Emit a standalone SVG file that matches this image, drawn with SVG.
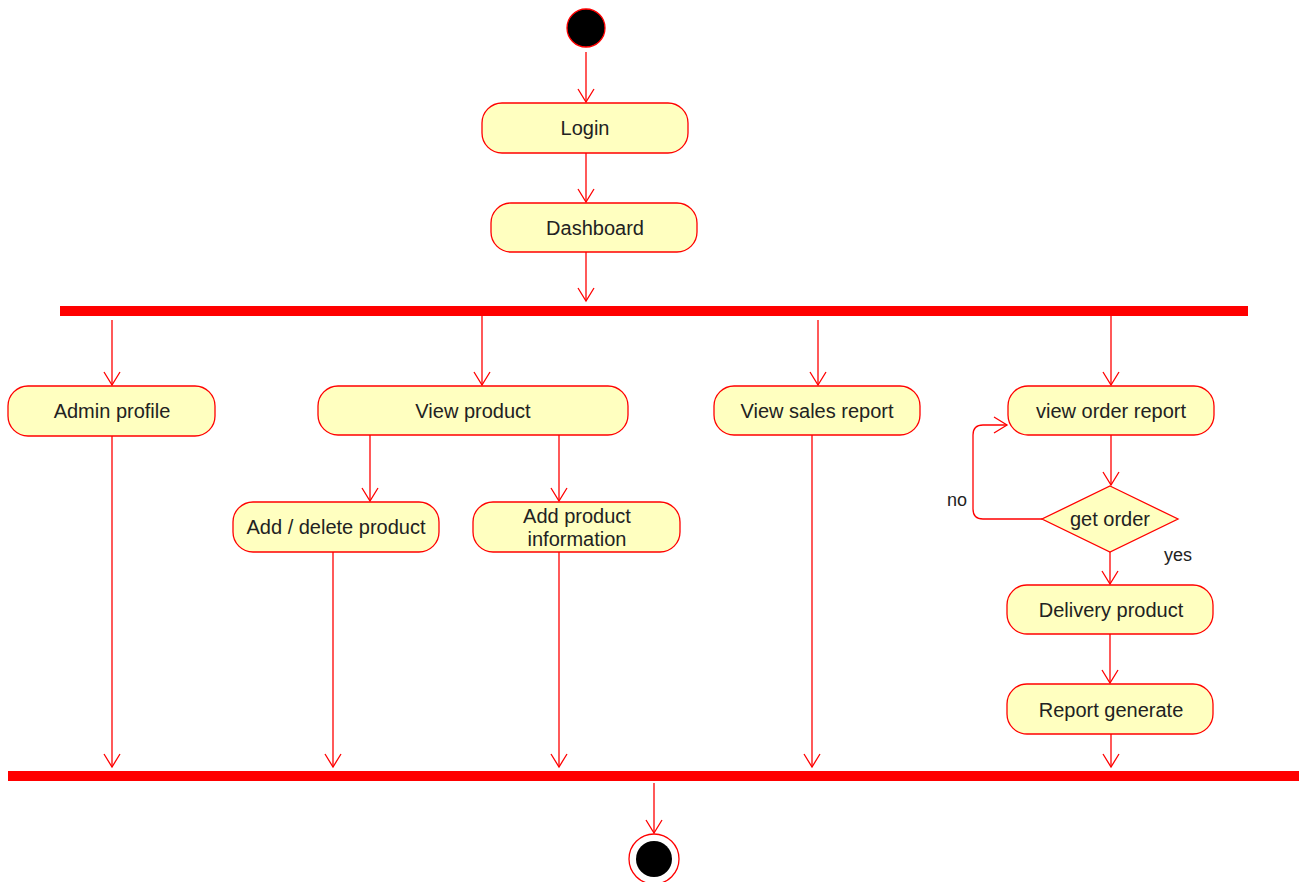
<svg xmlns="http://www.w3.org/2000/svg" width="1301" height="882" viewBox="0 0 1301 882">
  <style>
    .act { fill: #FFFFC0; stroke: #FF0000; stroke-width: 1.3; }
    .lbl { font-family: "Liberation Sans", Arial, sans-serif; font-size: 20px; fill: #222; text-anchor: middle; dominant-baseline: central; }
    .small { font-family: "Liberation Sans", Arial, sans-serif; font-size: 18px; fill: #222; }
    .edge { fill: none; stroke: #FF0000; stroke-width: 1.3; marker-end: url(#open); }
    .bar { fill: #FF0000; }
  </style>
  <defs>
    <!-- open V arrowhead -->
    <marker id="open" markerWidth="16" markerHeight="18" refX="14" refY="9" orient="auto" markerUnits="userSpaceOnUse">
      <path d="M1,1 L14,9 L1,17" fill="none" stroke="#FF0000" stroke-width="1.3"/>
    </marker>
  </defs>
  <rect width="1301" height="882" fill="#FFFFFF"/>

  <!-- initial node -->
  <g id="start">
    <circle cx="586" cy="28" r="19" fill="#000" stroke="#FF0000" stroke-width="1.3"/>
  </g>

  <g id="login">
    <rect class="act" x="482" y="103" width="206" height="50" rx="20"/>
    <text class="lbl" x="585" y="128">Login</text>
  </g>
  <g id="dashboard">
    <rect class="act" x="491" y="203" width="206" height="49" rx="20"/>
    <text class="lbl" x="595" y="228">Dashboard</text>
  </g>

  <!-- fork and join bars -->
  <g id="fork"><rect class="bar" x="60" y="306" width="1188" height="10"/></g>
  <g id="join"><rect class="bar" x="8" y="771" width="1291" height="10"/></g>

  <g id="admin-profile">
    <rect class="act" x="8" y="386" width="207" height="50" rx="20"/>
    <text class="lbl" x="112" y="411">Admin profile</text>
  </g>
  <g id="view-product">
    <rect class="act" x="318" y="386" width="310" height="49" rx="20"/>
    <text class="lbl" x="473" y="411">View product</text>
  </g>
  <g id="add-delete-product">
    <rect class="act" x="233" y="502" width="206" height="50" rx="20"/>
    <text class="lbl" x="336" y="527">Add / delete product</text>
  </g>
  <g id="add-product-information">
    <rect class="act" x="473" y="502" width="207" height="50" rx="20"/>
    <text class="lbl" x="577" y="516">Add product</text>
    <text class="lbl" x="577" y="539">information</text>
  </g>
  <g id="view-sales-report">
    <rect class="act" x="714" y="386" width="206" height="49" rx="20"/>
    <text class="lbl" x="817" y="411">View sales report</text>
  </g>
  <g id="view-order-report">
    <rect class="act" x="1008" y="386" width="206" height="49" rx="20"/>
    <text class="lbl" x="1111" y="411">view order report</text>
  </g>
  <g id="get-order">
    <polygon class="act" points="1110,486 1178,519 1110,552 1042,519"/>
    <text class="lbl" x="1110" y="519">get order</text>
  </g>
  <g id="delivery-product">
    <rect class="act" x="1007" y="585" width="206" height="49" rx="20"/>
    <text class="lbl" x="1111" y="610">Delivery product</text>
  </g>
  <g id="report-generate">
    <rect class="act" x="1007" y="684" width="206" height="50" rx="20"/>
    <text class="lbl" x="1111" y="710">Report generate</text>
  </g>

  <!-- final node -->
  <g id="end">
    <circle cx="654" cy="859" r="25" fill="#FFFFFF" stroke="#FF0000" stroke-width="1.3"/>
    <circle cx="654" cy="859" r="18" fill="#000"/>
  </g>

  <g id="connectors">
    <path class="edge" d="M586,52 L586,102"/>
    <path class="edge" d="M586,153 L586,202"/>
    <path class="edge" d="M586,252 L586,301"/>

    <path class="edge" d="M112,320 L112,385"/>
    <path class="edge" d="M482,316 L482,385"/>
    <path class="edge" d="M818,320 L818,385"/>
    <path class="edge" d="M1111,316 L1111,385"/>

    <path class="edge" d="M370,435 L370,501"/>
    <path class="edge" d="M559,435 L559,501"/>

    <path class="edge" d="M1111,435 L1111,485"/>
    <path class="edge" d="M1042,519 L983,519 Q973,519 973,509 L973,435 Q973,425 983,425 L1007,425"/>
    <path class="edge" d="M1110,552 L1110,584"/>
    <path class="edge" d="M1110,634 L1110,683"/>
    <path class="edge" d="M1111,734 L1111,767"/>

    <path class="edge" d="M112,436 L112,767"/>
    <path class="edge" d="M333,552 L333,767"/>
    <path class="edge" d="M559,552 L559,767"/>
    <path class="edge" d="M812,435 L812,767"/>

    <path class="edge" d="M654,783 L654,833"/>

    <text class="small" x="947" y="506">no</text>
    <text class="small" x="1164" y="561">yes</text>
  </g>
</svg>
